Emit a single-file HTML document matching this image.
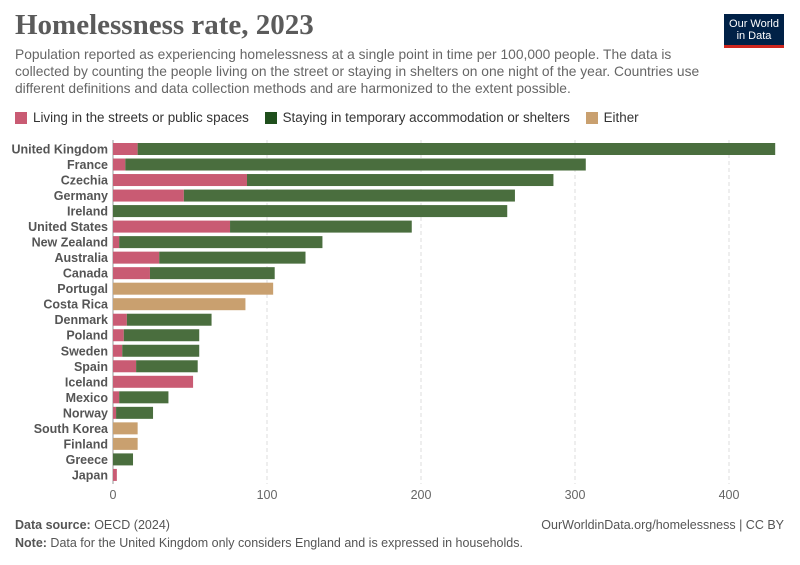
<!DOCTYPE html>
<html><head><meta charset="utf-8">
<style>
body{margin:0;background:#fff;font-family:"Liberation Sans",sans-serif;}
#wrap{position:relative;width:800px;height:565px;overflow:hidden;}
.t{position:absolute;white-space:nowrap;}
</style></head>
<body>
<div id="wrap">
<div class="t" style="left:15px;top:9px;font-family:'Liberation Serif',serif;font-size:29px;color:#5b5b5b;font-weight:bold;">Homelessness rate, 2023</div>
<div class="t" style="left:15px;top:46px;font-size:13.8px;color:#666;line-height:17px;white-space:normal;width:705px;">Population reported as experiencing homelessness at a single point in time per 100,000 people. The data is collected by counting the people living on the street or staying in shelters on one night of the year. Countries use different definitions and data collection methods and are harmonized to the extent possible.</div>
<div style="position:absolute;left:724px;top:14px;width:60px;height:34px;background:#002147;border-bottom:3px solid #ce261e;color:#fff;font-size:11px;line-height:12px;text-align:center;padding-top:4px;box-sizing:border-box;">Our World<br>in Data</div>
<div style="position:absolute;left:15px;top:110px;font-size:13.4px;color:#333;">
<span style="display:inline-flex;align-items:center;margin-right:12px;"><span style="width:12px;height:12px;background:#c95b73;display:inline-block;margin-right:6px;"></span>Living in the streets or public spaces</span>
<span style="display:inline-flex;align-items:center;margin-right:12px;"><span style="width:12px;height:12px;background:#1f4f1c;display:inline-block;margin-right:6px;"></span>Staying in temporary accommodation or shelters</span>
<span style="display:inline-flex;align-items:center;"><span style="width:12px;height:12px;background:#c9a06f;display:inline-block;margin-right:6px;"></span>Either</span>
</div>
<svg id="chart" width="800" height="565" style="position:absolute;left:0;top:0;"></svg>
<div class="t" style="left:15px;top:518px;font-size:12.5px;color:#555;"><b>Data source:</b> OECD (2024)</div>
<div class="t" style="right:16px;top:518px;font-size:12.5px;color:#555;">OurWorldinData.org/homelessness | CC BY</div>
<div class="t" style="left:15px;top:536px;font-size:12.5px;color:#555;"><b>Note:</b> Data for the United Kingdom only considers England and is expressed in households.</div>
</div>
<script>
const countries=["United Kingdom","France","Czechia","Germany","Ireland","United States","New Zealand","Australia","Canada","Portugal","Costa Rica","Denmark","Poland","Sweden","Spain","Iceland","Mexico","Norway","South Korea","Finland","Greece","Japan"];
const streets=[16,8,87,46,0,76,4,30,24,0,0,9,7,6,15,52,4,2,0,0,0,2.5];
const shelters=[414,299,199,215,256,118,132,95,81,0,0,55,49,50,40,0,32,24,0,0,13,0];
const either=[0,0,0,0,0,0,0,0,0,104,86,0,0,0,0,0,0,0,16,16,0,0];
const ticks=[0,100,200,300,400];
const svg=document.getElementById('chart');
const NS='http://www.w3.org/2000/svg';
const x0=113,scale=1.54,y0=149,step=15.52,bh=12;
const X=v=>x0+v*scale;
const Y=i=>y0+i*step;
function mk(t,a){const e=document.createElementNS(NS,t);for(const k in a)e.setAttribute(k,a[k]);svg.appendChild(e);return e;}
ticks.forEach(t=>{
  const l=mk('line',{x1:X(t),x2:X(t),y1:140,y2:484,stroke:t===0?'#999':'#ddd','stroke-dasharray':t===0?'':'4,3'});
  
  
  const tx=mk('text',{x:X(t),y:499,'text-anchor':'middle','font-size':12.5,fill:'#666','font-family':'Liberation Sans, sans-serif'});
  tx.textContent=t;
  
  
});
countries.forEach((c,i)=>{
  const y=Y(i);
  const lb=mk('text',{x:108,y:y+4.5,'text-anchor':'end','font-size':12.5,'font-weight':'bold',fill:'#555','font-family':'Liberation Sans, sans-serif'});
  lb.textContent=c;
  
  
  let acc=0;
  [[streets[i],'#c95b73'],[shelters[i],'#4a6e3e'],[either[i],'#c9a06f']].forEach(([v,col])=>{
    if(v>0){
      const r=mk('rect',{x:X(acc),y:y-bh/2,width:v*scale,height:bh,fill:col});
      
      
      acc+=v;
    }
  });
});
</script>
</body></html>
